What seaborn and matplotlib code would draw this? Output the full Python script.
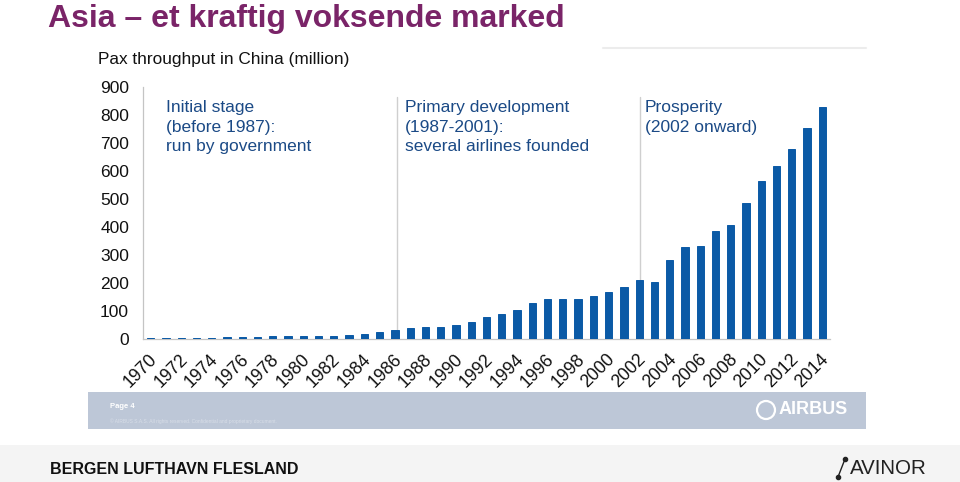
import matplotlib
matplotlib.use('Agg')
import matplotlib.pyplot as plt
import matplotlib.transforms as mtransforms
import seaborn as sns
import pandas as pd
from matplotlib.patches import Rectangle, Ellipse
from matplotlib.lines import Line2D

years = [str(y) for y in range(1970, 2015)]
pax = [5, 5, 5, 5, 5, 6, 7, 7, 9, 9, 11, 12, 12, 15, 17, 25, 32,
       39, 44, 43, 51, 62, 77, 89, 105, 128, 143, 143, 144, 153, 169, 186,
       211, 204, 283, 330, 333, 387, 406, 484, 564, 619, 677, 752, 829]
tick_labels = years[::2]
phases = ['Initial stage\n(before 1987):\nrun by government',
          'Primary development\n(1987-2001):\nseveral airlines founded',
          'Prosperity\n(2002 onward)']

sns.set_style('white')
plt.rcParams['font.family'] = ['Liberation Sans', 'DejaVu Sans']

W, H = 960, 482
fig = plt.figure(figsize=(9.6, 4.82), dpi=100)


def fx(x):
    return x / W


def fy(y):
    return 1 - y / H


# chart
ax = fig.add_axes([fx(143), fy(339), 687 / W, 252 / H])
df = pd.DataFrame({'year': years, 'pax': pax})
sns.barplot(data=df, x='year', y='pax', color='#0b5aa6', width=0.48,
            saturation=1, ax=ax, zorder=3, edgecolor='#0b5aa6', linewidth=0.7)
ax.set_xlim(-0.5, 44.5)
ax.set_ylim(0, 900)
ax.set_yticks(range(0, 901, 100))
ax.set_xticks(range(0, 45, 2))
ax.set_xticklabels(tick_labels, rotation=45, ha='right', va='center',
                   rotation_mode='anchor')
ax.set_xticks([i + 0.5 for i in range(-1, 45)], minor=True)
ax.tick_params(axis='y', length=0, pad=10, labelsize=12.5, labelcolor='#111111')
ax.tick_params(axis='x', which='major', length=0, pad=13, labelsize=12.8,
               labelcolor='#111111')
ax.tick_params(axis='x', which='minor', length=4, width=0.8, color='#bdbdbd',
               direction='out')
shift = mtransforms.ScaledTranslation(4 / 100, 0, fig.dpi_scale_trans)
for lbl in ax.get_xticklabels():
    lbl.set_transform(lbl.get_transform() + shift)
ax.set_xlabel('')
ax.set_ylabel('')
for s in ['top', 'right']:
    ax.spines[s].set_visible(False)
for s in ['left', 'bottom']:
    ax.spines[s].set_color('#c4c4c4')
    ax.spines[s].set_linewidth(0.9)
    ax.spines[s].set_zorder(1)

ax.axvline(16.15, ymax=0.96, color='#cfcfcf', lw=1)
ax.axvline(32.05, ymax=0.96, color='#cfcfcf', lw=1)

for x, t in zip([166, 405, 645], phases):
    fig.text(fx(x), fy(100), t, ha='left', va='top', fontsize=12.5,
             color='#1b4a86', linespacing=1.38)

fig.text(fx(98), fy(52), 'Pax throughput in China (million)', ha='left',
         va='top', fontsize=12.4, color='#111111')

# slide title
fig.text(fx(48), fy(27), 'Asia \u2013 et kraftig voksende marked', ha='left',
         va='baseline', fontsize=23, fontweight='bold', color='#7a2468')

fig.add_artist(Line2D([fx(603), fx(866)], [fy(48), fy(48)], color='#ececec',
                      lw=1.5))

# airbus footer band
fig.add_artist(Rectangle((fx(88), fy(429)), 778 / W, 37 / H,
                         color='#bdc7d7', lw=0))
fig.text(fx(110), fy(406), 'Page 4', ha='left', va='center', fontsize=5.5,
         fontweight='bold', color='white')
fig.text(fx(110), fy(421),
         '\u00a9 AIRBUS S.A.S. All rights reserved. Confidential and proprietary document.',
         ha='left', va='center', fontsize=3.5, color='#d8dee8')
fig.add_artist(Ellipse((fx(766), fy(410)), 18 / W, 18 / H,
                       transform=fig.transFigure, fill=False, ec='white',
                       lw=1.6))
fig.text(fx(779), fy(410), 'AIRBUS', ha='left', va='center', fontsize=13,
         fontweight='bold', color='white')

# bottom band
fig.add_artist(Rectangle((0, 0), 1, 37 / H, color='#f4f4f4', lw=0))
fig.text(fx(50), fy(469), 'BERGEN LUFTHAVN FLESLAND', ha='left', va='center',
         fontsize=11.5, fontweight='bold', color='#111111')
fig.add_artist(Line2D([fx(838), fx(845)], [fy(477), fy(459)], color='#222222',
                      lw=1))
fig.add_artist(Line2D([fx(838), fx(845)], [fy(477), fy(459)], color='#222222',
                      lw=0, marker='o', markersize=3))
fig.text(fx(850), fy(469), 'AVINOR', ha='left', va='center', fontsize=14.8,
         color='#222222')

fig.savefig('out.png', dpi=100)
